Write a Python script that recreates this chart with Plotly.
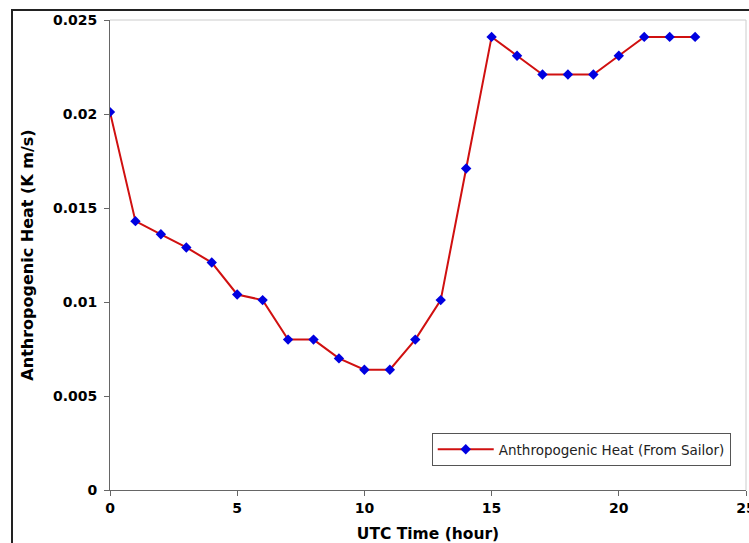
import plotly.graph_objects as go

hours = list(range(24))
heat = [0.0201, 0.0143, 0.0136, 0.0129, 0.0121, 0.0104, 0.0101, 0.0080, 0.0080,
        0.0070, 0.0064, 0.0064, 0.0080, 0.0101, 0.0171, 0.0241, 0.0231, 0.0221,
        0.0221, 0.0221, 0.0231, 0.0241, 0.0241, 0.0241]
x_ticks = [0, 5, 10, 15, 20, 25]
y_ticks = [0, 0.005, 0.01, 0.015, 0.02, 0.025]
y_tick_labels = ["0", "0.005", "0.01", "0.015", "0.02", "0.025"]
series_name = "Anthropogenic Heat (From Sailor)"

fig = go.Figure()
fig.add_trace(go.Scatter(
    x=hours, y=heat, mode="lines+markers", name=series_name,
    line=dict(color="#d01010", width=2),
    marker=dict(symbol="diamond", size=8, color="#0000e0"),
))

fig.update_layout(
    width=749, height=543,
    margin=dict(l=110, r=3, t=20, b=53, autoexpand=False),
    paper_bgcolor="white", plot_bgcolor="white",
    font=dict(family="DejaVu Sans", color="black"),
    showlegend=True,
    legend=dict(x=0.976, y=0.051, xanchor="right", yanchor="bottom",
                bordercolor="#555555", borderwidth=1, bgcolor="white",
                itemwidth=56,
                font=dict(size=13.5, family="DejaVu Sans", color="#222222")),
    xaxis=dict(range=[0, 25], tickvals=x_ticks, showgrid=False, zeroline=False,
               showline=True, linecolor="#666666", linewidth=1,
               ticks="outside", ticklen=5, tickcolor="#666666",
               tickfont=dict(size=14, weight="bold"),
               ticklabeloverflow="allow", automargin=False,
               title=dict(text="UTC Time (hour)", font=dict(size=15.5, weight="bold"))),
    yaxis=dict(range=[0, 0.025], tickvals=y_ticks, ticktext=y_tick_labels,
               showgrid=False, zeroline=False,
               showline=True, linecolor="#666666", linewidth=1,
               ticks="outside", ticklen=5, tickcolor="#666666",
               ticklabelstandoff=4,
               tickfont=dict(size=14, weight="bold"), automargin=False,
               title=dict(text="Anthropogenic Heat (K m/s)", font=dict(size=16, weight="bold"))),
)

# light top and right frame lines
fig.add_shape(type="line", xref="paper", yref="paper", x0=0, x1=1, y0=1, y1=1,
              line=dict(color="#cccccc", width=1))
fig.add_shape(type="line", xref="paper", yref="paper", x0=1, x1=1, y0=0, y1=1,
              line=dict(color="#cccccc", width=1))
# outer dark border
fig.add_shape(type="rect", xref="paper", yref="paper",
              x0=(12 - 110) / 636, x1=1.1, y0=(490 - 10) / 470, y1=-0.5,
              line=dict(color="#222222", width=2), layer="below")

fig.write_html("out.html", config={"displayModeBar": False},
               post_script="document.body.style.margin='0';document.body.style.overflow='hidden';")
